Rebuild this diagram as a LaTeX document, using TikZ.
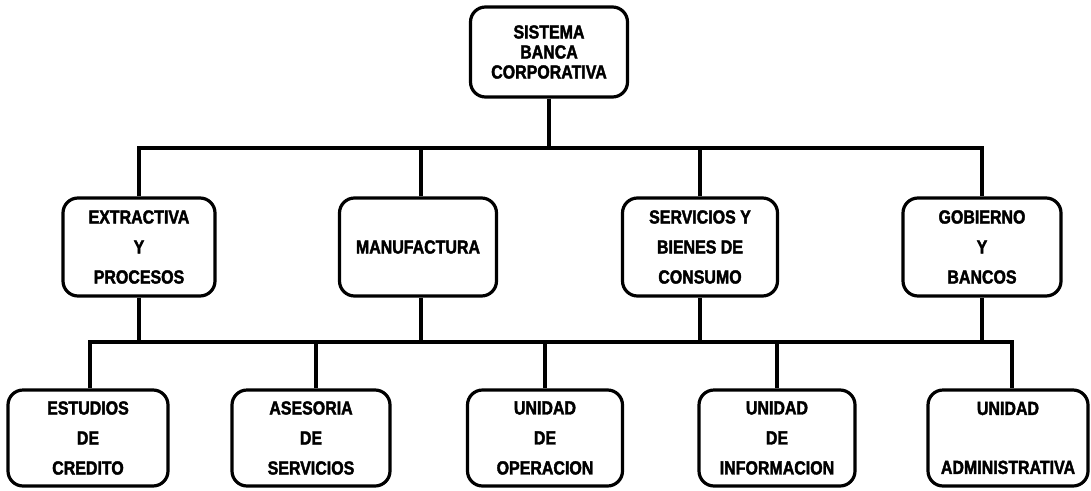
\documentclass[tikz,border=0pt]{standalone}
\usepackage{fontspec}
\newfontfamily\boxfont{Liberation Sans Bold}[FakeStretch=0.84,FakeBold=2]
\begin{document}
\begin{tikzpicture}[x=1pt,y=-1pt,
  box/.style={draw,line width=3.2pt,rounded corners=15pt,align=center,inner sep=0pt,font=\boxfont\fontsize{19}{20}\selectfont},
  midbox/.style={box,minimum height=98pt,font=\boxfont\fontsize{19}{30}\selectfont},
  lowbox/.style={box,minimum height=96pt,font=\boxfont\fontsize{19}{30}\selectfont},
  link/.style={line width=3.2pt}]
\useasboundingbox (0,0) rectangle (1091,490);
\fill[white] (0,0) rectangle (1091,490);
% top
\node[box,minimum width=157pt,minimum height=90pt] (top) at (549,52) {SISTEMA\\BANCA\\CORPORATIVA};
% level 2
\node[midbox,minimum width=152pt] (ext) at (139,247) {EXTRACTIVA\\Y\\PROCESOS};
\node[midbox,minimum width=157pt] (man) at (418,247) {MANUFACTURA};
\node[midbox,minimum width=155pt] (ser) at (700,247) {SERVICIOS Y\\BIENES DE\\CONSUMO};
\node[midbox,minimum width=158pt] (gob) at (982,247) {GOBIERNO\\Y\\BANCOS};
% level 3
\node[lowbox,minimum width=160pt] (est) at (88,438) {ESTUDIOS\\DE\\CREDITO};
\node[lowbox,minimum width=158pt] (ase) at (311,438) {ASESORIA\\DE\\SERVICIOS};
\node[lowbox,minimum width=155pt] (ope) at (545,438) {UNIDAD\\DE\\OPERACION};
\node[lowbox,minimum width=156pt] (inf) at (777,438) {UNIDAD\\DE\\INFORMACION};
\node[lowbox,minimum width=160pt] (adm) at (1008,438) {UNIDAD\\[29pt]ADMINISTRATIVA};
% connectors
\coordinate (b1) at (549,148);
\coordinate (b2) at (549,342);
\draw[link] (top.south) -- (b1);
\draw[link] (ext.north) -- (ext.north |- b1) -- (gob.north |- b1) -- (gob.north);
\draw[link] ([xshift=3pt]man.north) -- ([xshift=3pt]man.north |- b1);
\draw[link] (ser.north) -- (ser.north |- b1);
\draw[link] (ext.south) -- (ext.south |- b2);
\draw[link] ([xshift=3pt]man.south) -- ([xshift=3pt]man.south |- b2);
\draw[link] (ser.south) -- (ser.south |- b2);
\draw[link] (gob.south) -- (gob.south |- b2);
\draw[link] ([xshift=2pt]est.north) -- ([xshift=2pt]est.north |- b2) -- ([xshift=4pt]adm.north |- b2) -- ([xshift=4pt]adm.north);
\draw[link] ([xshift=5pt]ase.north) -- ([xshift=5pt]ase.north |- b2);
\draw[link] (ope.north) -- (ope.north |- b2);
\draw[link] (inf.north) -- (inf.north |- b2);
\end{tikzpicture}
\end{document}
